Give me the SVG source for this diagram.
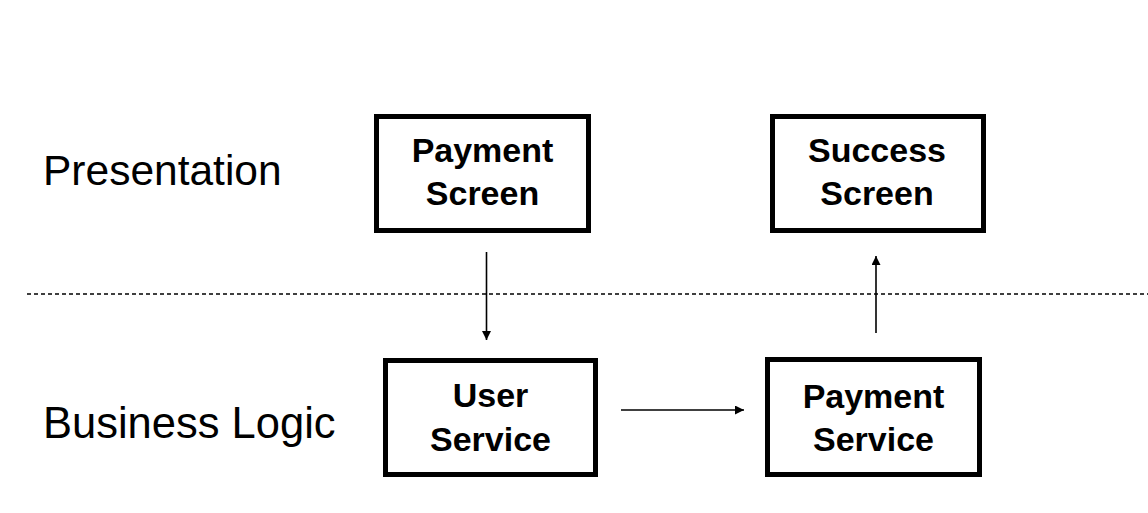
<svg xmlns="http://www.w3.org/2000/svg" width="1148" height="513" viewBox="0 0 1148 513">
  <defs>
    <style>
      .box { fill: #ffffff; stroke: #000000; stroke-width: 5; }
      .ntext { font-family: "Liberation Sans", Arial, sans-serif; font-weight: bold; font-size: 34px; fill: #000000; text-anchor: middle; }
      .label { font-family: "Liberation Sans", Arial, sans-serif; font-size: 42.5px; fill: #000000; }
      .conn { stroke: #000000; stroke-width: 1.6; fill: none; marker-end: url(#arrow); }
      .divider { stroke: #000000; stroke-width: 1.3; stroke-dasharray: 4 3; fill: none; }
    </style>
    <marker id="arrow" viewBox="0 0 10 10" refX="10" refY="5" markerUnits="userSpaceOnUse" markerWidth="10" markerHeight="9" orient="auto">
      <path d="M0,0 L10,5 L0,10 z" fill="#000000"/>
    </marker>
  </defs>
  <rect width="1148" height="513" fill="#ffffff"/>

  <g id="layer-labels">
    <text class="label" x="43" y="185">Presentation</text>
    <text class="label" x="43" y="438" style="font-size:43.5px">Business Logic</text>
  </g>

  <line class="divider" x1="27" y1="294" x2="1148" y2="294"/>

  <g id="payment-screen">
    <rect class="box" x="376.5" y="116.5" width="212" height="114"/>
    <text class="ntext" x="482.5" y="162">Payment</text>
    <text class="ntext" x="482.5" y="205">Screen</text>
  </g>

  <g id="success-screen">
    <rect class="box" x="772.5" y="116.5" width="211" height="114"/>
    <text class="ntext" x="877" y="162">Success</text>
    <text class="ntext" x="877" y="205">Screen</text>
  </g>

  <g id="user-service">
    <rect class="box" x="385.5" y="360.5" width="210" height="114"/>
    <text class="ntext" x="490.5" y="407">User</text>
    <text class="ntext" x="490.5" y="451">Service</text>
  </g>

  <g id="payment-service">
    <rect class="box" x="767.5" y="359.5" width="212" height="115"/>
    <text class="ntext" x="873.5" y="408">Payment</text>
    <text class="ntext" x="873.5" y="451">Service</text>
  </g>

  <g id="connectors">
    <line class="conn" x1="486.5" y1="252" x2="486.5" y2="340"/>
    <line class="conn" x1="621" y1="410" x2="744" y2="410"/>
    <line class="conn" x1="876" y1="333" x2="876" y2="256"/>
  </g>
</svg>
